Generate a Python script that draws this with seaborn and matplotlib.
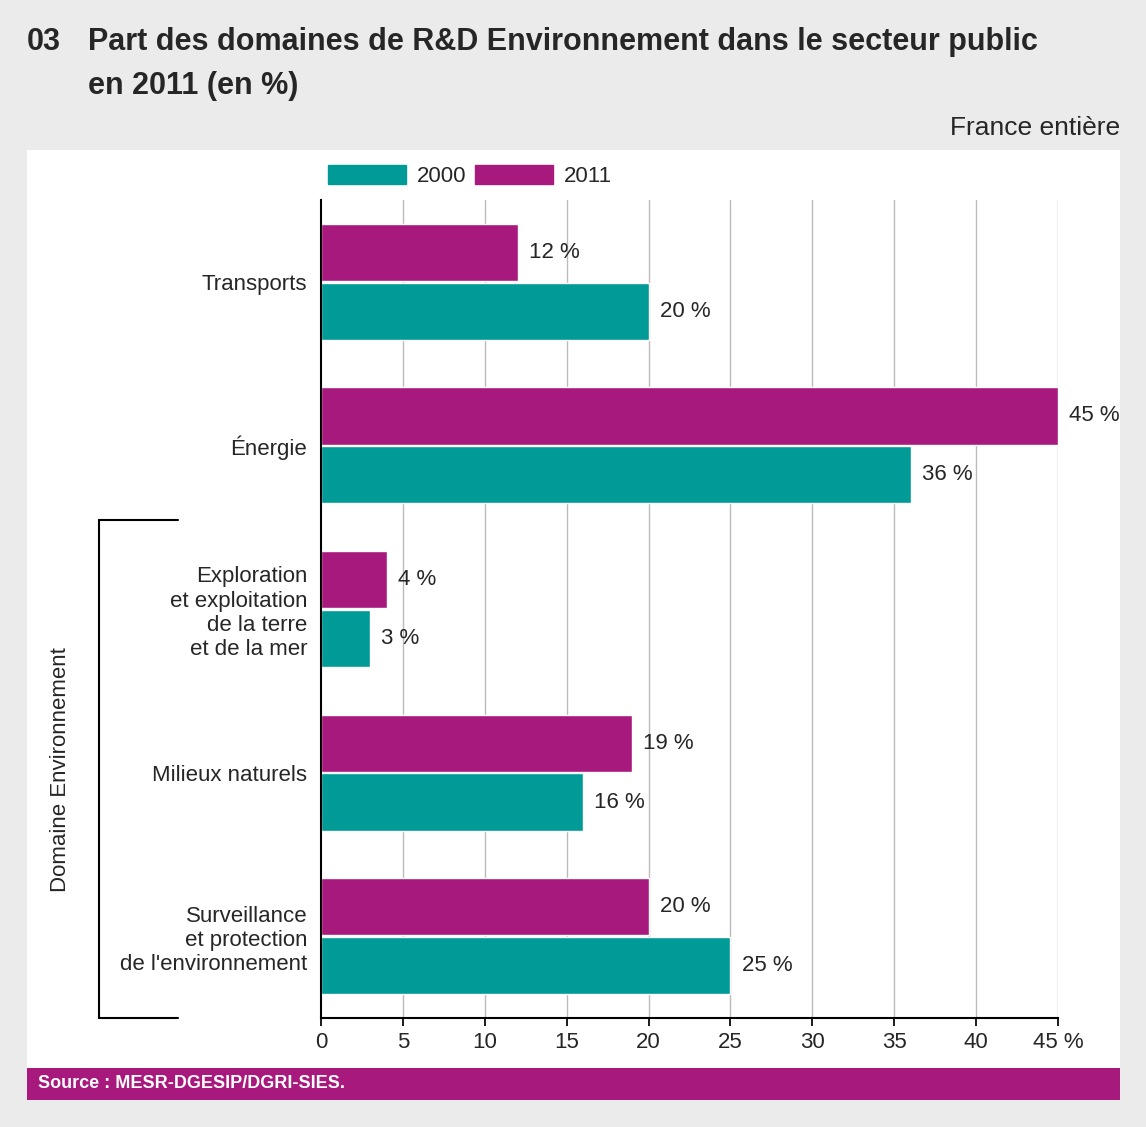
import seaborn as sns
import pandas as pd
import matplotlib.pyplot as plt
from matplotlib.patches import Patch, Rectangle
from matplotlib.lines import Line2D

categories = ["Transports", "Énergie",
              "Exploration\net exploitation\nde la terre\net de la mer",
              "Milieux naturels",
              "Surveillance\net protection\nde l'environnement"]
values_2000 = [20, 36, 3, 16, 25]
values_2011 = [12, 45, 4, 19, 20]
ticks = [0, 5, 10, 15, 20, 25, 30, 35, 40, 45]
tick_labels = ["0", "5", "10", "15", "20", "25", "30", "35", "40", "45 %"]

TEAL = "#009b96"
MAGENTA = "#a8197e"

sns.set_theme(style="white")
plt.rcParams["font.family"] = ["Liberation Sans Narrow", "Liberation Sans", "DejaVu Sans"]

df = pd.DataFrame({
    "domaine": categories * 2,
    "annee": ["2011"] * 5 + ["2000"] * 5,
    "part": values_2011 + values_2000,
})

fig = plt.figure(figsize=(11.46, 11.27), dpi=100, facecolor="#ebebeb")
# white panel and source bar
fig.patches.append(Rectangle((27 / 1146, 1 - 1068 / 1127), 1093 / 1146, 918 / 1127,
                             transform=fig.transFigure, facecolor="white", edgecolor="none", zorder=-5))
fig.patches.append(Rectangle((27 / 1146, 1 - 1100 / 1127), 1093 / 1146, 32 / 1127,
                             transform=fig.transFigure, facecolor=MAGENTA, edgecolor="none", zorder=-5))

ax = fig.add_axes([321 / 1146, 1 - 1018 / 1127, 737 / 1146, 818 / 1127])
ax.set_zorder(2)
ax.set_facecolor("none")
sns.barplot(data=df, y="domaine", x="part", hue="annee", hue_order=["2011", "2000"],
            palette={"2011": MAGENTA, "2000": TEAL}, order=categories,
            orient="h", width=0.72, gap=0.03, ax=ax, legend=False, saturation=1)

ax.set_xlim(0, 45)
ax.set_ylim(4.5, -0.5)
ax.set_xticks(ticks)
ax.set_xticklabels(tick_labels, fontsize=16)
ax.tick_params(axis="x", length=6, color="black", bottom=True, pad=4)
ax.tick_params(axis="y", length=0, labelsize=16, pad=10)
ax.set_xlabel("")
ax.set_ylabel("")
ax.set_axisbelow(True)
for t in ticks[1:]:
    ax.axvline(t, color="#bbbbbb", lw=1, zorder=0)
for s in ["top", "right"]:
    ax.spines[s].set_visible(False)
ax.spines["left"].set_color("black")
ax.spines["left"].set_linewidth(1.5)
ax.spines["bottom"].set_color("black")
ax.spines["bottom"].set_linewidth(1.5)

for container in ax.containers:
    ax.bar_label(container, labels=[f"{int(v)} %" for v in container.datavalues],
                 padding=8, fontsize=16)

# bracket
bx, btop, bbot, bend = 99 / 1146, 1 - 520 / 1127, 1 - 1018 / 1127, 178 / 1146
fig.add_artist(Line2D([bx, bx], [btop, bbot], color="black", lw=1.5))
fig.add_artist(Line2D([bx, bend], [btop, btop], color="black", lw=1.5))
fig.add_artist(Line2D([bx, bend], [bbot, bbot], color="black", lw=1.5))
fig.text(60 / 1146, 1 - 770 / 1127, "Domaine Environnement", rotation=90,
         ha="center", va="center", fontsize=16)

fig.text(27 / 1146, 1 - 42 / 1127, "03", fontsize=22, fontweight="bold", va="center")
fig.text(88 / 1146, 1 - 42 / 1127, "Part des domaines de R&D Environnement dans le secteur public",
         fontsize=22, fontweight="bold", va="center")
fig.text(88 / 1146, 1 - 86 / 1127, "en 2011 (en %)", fontsize=22, fontweight="bold", va="center")
fig.text(1120 / 1146, 1 - 128 / 1127, "France entière", fontsize=19, ha="right", va="center")
fig.text(38 / 1146, 1 - 1084 / 1127, "Source : MESR-DGESIP/DGRI-SIES.", fontsize=13,
         fontweight="bold", color="white", va="center")

handles = [Patch(color=TEAL, label="2000"), Patch(color=MAGENTA, label="2011")]
fig.legend(handles=handles, loc="center", bbox_to_anchor=(470 / 1146, 1 - 176 / 1127), ncol=2,
           frameon=False, fontsize=16, handlelength=3.5, handleheight=0.9,
           columnspacing=0.4, handletextpad=0.5)

fig.savefig("out.png", dpi=100, facecolor=fig.get_facecolor())
